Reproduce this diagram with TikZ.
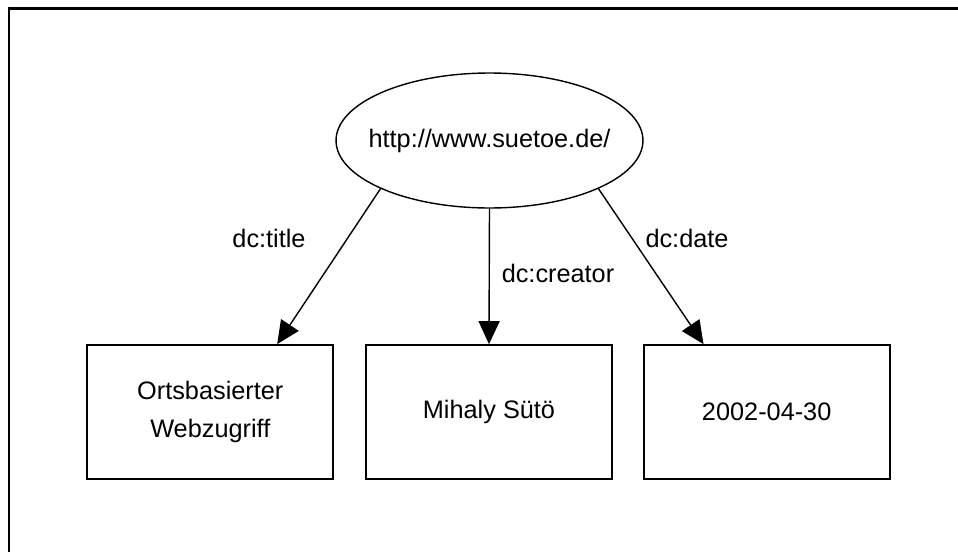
\documentclass[tikz,border=0pt]{standalone}
\usepackage{fontspec}
\setmainfont{Liberation Sans}
\usepackage{tikz}
\usetikzlibrary{shapes.geometric, arrows.meta, positioning, calc}

\begin{document}
\begin{tikzpicture}[
    x=0.02cm, y=-0.02cm,
    node distance=0.62cm,
    font=\fontsize{14.4pt}{21.5pt}\selectfont,
    res/.style={ellipse, draw, line width=0.8pt, minimum width=6.14cm, minimum height=2.7cm, inner xsep=-0.3cm, inner ysep=0pt},
    lit/.style={rectangle, draw, line width=1pt, minimum width=4.92cm, minimum height=2.68cm, align=center},
    prop/.style={-{Triangle[length=0.46cm, width=0.42cm]}, line width=0.8pt},
    plabel/.style={inner sep=0pt}
]
\useasboundingbox (0,0) rectangle (958,552);
% open frame, top and left edge only
\draw[line width=1.2pt] (958,8.5) -- (9,8.5) -- (9,552);

\node[res] (site) at (489.5,140.5) {http://www.suetoe.de/};

\node[lit] (creator) at (489,412) {Mihaly Sütö};
\node[lit, left=of creator] (title) {Ortsbasierter\\Webzugriff};
\node[lit, right=0.6cm of creator] (date) {2002-04-30};

\draw[prop] (site.south west) -- ($(title.north)!0.54!(title.north east)$);
\draw[prop] (site.south) -- (creator.north);
\draw[prop] (site.south east) -- ($(date.north)!0.51!(date.north west)$);

\node[plabel] (ltitle) at (269,238) {dc:title};
\node[plabel] (lcreator) at (558,273) {dc:creator};
\node[plabel] (ldate) at (687,238) {dc:date};
\end{tikzpicture}
\end{document}
